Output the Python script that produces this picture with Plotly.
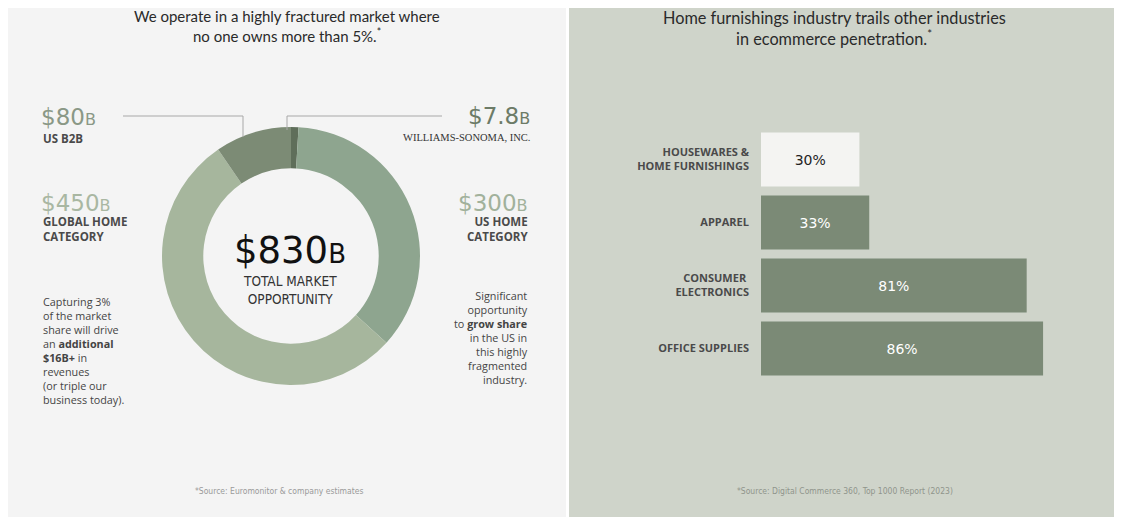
import plotly.graph_objects as go

W, H = 1122, 517

# ---------------- data ----------------
donut_labels = ["Williams-Sonoma, Inc.", "US Home Category", "Global Home Category", "US B2B"]
donut_values = [7.8, 300, 450, 80]
donut_colors = ["#5f6e5a", "#8ea58f", "#a6b69d", "#7c8b75"]

bar_categories = ["HOUSEWARES &<br>HOME FURNISHINGS", "APPAREL", "CONSUMER <br>ELECTRONICS", "OFFICE SUPPLIES"]
bar_values = [30, 33, 81, 86]
bar_text = ["30%", "33%", "81%", "86%"]
bar_colors = ["#f4f4f2", "#7b8a76", "#7b8a76", "#7b8a76"]
bar_text_colors = ["#222222", "#ffffff", "#ffffff", "#ffffff"]

left_title = ["We operate in a highly fractured market where", "no one owns more than 5%.<sup>*</sup>"]
right_title = ["Home furnishings industry trails other industries", "in ecommerce penetration.<sup>*</sup>"]
left_para = ["Capturing 3%", "of the market", "share will drive", "an <b>additional</b>", "<b>$16B+</b> in",
             "revenues", "(or triple our", "business today)."]
right_para = ["Significant", "opportunity", "to <b>grow share</b>", "in the US in", "this highly",
              "fragmented", "industry."]
left_source = "*Source: Euromonitor & company estimates"
right_source = "*Source: Digital Commerce 360, Top 1000 Report (2023)"

# page places the figure 8px from the top-left corner
OX, OY = 8, 8


def px(x):
    return (x - OX) / W


def py(y):
    return 1 - (y - OY) / H


fig = go.Figure()

# donut
cx, cy, r = 291, 256, 129
fig.add_trace(go.Pie(
    labels=donut_labels, values=donut_values, sort=False, direction="clockwise",
    rotation=0, hole=0.68, marker=dict(colors=donut_colors, line=dict(width=0)),
    textinfo="none", hoverinfo="label+value", showlegend=False,
    domain=dict(x=[px(cx - r), px(cx + r)], y=[py(cy + r), py(cy - r)]),
))

# bars
fig.add_trace(go.Bar(
    x=bar_values, y=bar_categories, orientation="h",
    marker=dict(color=bar_colors, line=dict(width=0)),
    text=bar_text, textposition="inside", insidetextanchor="middle", textangle=0,
    textfont=dict(family="DejaVu Sans", size=14, color=bar_text_colors),
    constraintext="none", hoverinfo="x+y", showlegend=False,
    xaxis="x", yaxis="y",
))

fig.update_layout(
    width=W, height=H, margin=dict(l=0, r=0, t=0, b=0),
    paper_bgcolor="#ffffff", plot_bgcolor="rgba(0,0,0,0)",
    bargap=0.14,
    xaxis=dict(domain=[px(761), px(1089)], range=[0, 100], visible=False, fixedrange=True),
    yaxis=dict(domain=[py(380), py(128)], range=[3.5, -0.5], showgrid=False, zeroline=False,
               showline=False, ticks="", ticklabelstandoff=11,
               tickfont=dict(family="Open Sans", size=11, color="#4a4a4a", weight="bold"),
               fixedrange=True),
)

shapes = [
    dict(type="rect", xref="paper", yref="paper", x0=0, x1=px(566), y0=py(520), y1=1,
         fillcolor="#f4f4f4", line=dict(width=0), layer="below"),
    dict(type="rect", xref="paper", yref="paper", x0=px(569), x1=1, y0=py(520), y1=1,
         fillcolor="#cfd4ca", line=dict(width=0), layer="below"),
    # leader lines
    dict(type="path", xref="paper", yref="paper",
         path=f"M {px(123)},{py(116)} L {px(243)},{py(116)} L {px(243)},{py(137)}",
         line=dict(color="#a8a8a8", width=1)),
    dict(type="path", xref="paper", yref="paper",
         path=f"M {px(287)},{py(130)} L {px(287)},{py(116)} L {px(442)},{py(116)}",
         line=dict(color="#a8a8a8", width=1)),
]
fig.update_layout(shapes=shapes)

ann = []


def add(text, x, y, size, color, family="Open Sans", anchor="left", **kw):
    ann.append(dict(text=text, x=px(x), y=py(y), xref="paper", yref="paper", showarrow=False,
                    xanchor=anchor, yanchor="middle", align=anchor, borderpad=0,
                    font=dict(family=family, size=size, color=color, **kw)))


def add_lines(lines, x, y0, step, size, color, **kw):
    for i, t in enumerate(lines):
        add(t, x, y0 + i * step, size, color, **kw)


big = "DejaVu Sans"
narrow = "DejaVu Sans Condensed, Liberation Sans Narrow, Roboto Condensed, Roboto, sans-serif"

add_lines(left_title, 287, 16, 20, 15, "#2a2a2a", family="Lato", anchor="center")
add_lines(right_title, 834, 18, 20, 16.3, "#2a2a2a", family="Lato", anchor="center")

# $ labels
add("$80<span style='font-size:16px'>B</span>", 40, 117, 23, "#8a9886", family=big)
add("US B2B", 42, 138, 11.5, "#4a4a4a", weight="bold")
add("$450<span style='font-size:16px'>B</span>", 40, 203, 23, "#a9b7a2", family=big)
add("GLOBAL HOME<br>CATEGORY", 42, 229, 11.5, "#4a4a4a", weight="bold")
add("$7.8<span style='font-size:16px'>B</span>", 531, 116, 23, "#6c7b67", family=big, anchor="right")
add("WILLIAMS-SONOMA, INC.", 531, 137, 10.5, "#333333", family="Liberation Serif", anchor="right")
add("$300<span style='font-size:16px'>B</span>", 529, 203, 23, "#a1b19b", family=big, anchor="right")
add("US HOME<br>CATEGORY", 529, 229, 11.5, "#4a4a4a", anchor="right", weight="bold")

add("<br>".join(left_para), 42, 350, 10.8, "#444444")
add("<br>".join(right_para), 529, 337, 10.8, "#444444", anchor="right")

# center of donut
add("$830<span style='font-size:26px'>B</span>", cx - 1, 251, 37, "#111111", family=big, anchor="center")
add("TOTAL MARKET<br>OPPORTUNITY", cx - 1, 290, 13.5, "#333333", family=narrow, anchor="center")

add(left_source, 279, 491, 8.5, "#9a9a9a", family=narrow, anchor="center")
add(right_source, 845, 491, 8.5, "#8f948c", family=narrow, anchor="center")

fig.update_layout(annotations=ann)

fig.write_html("out.html")
